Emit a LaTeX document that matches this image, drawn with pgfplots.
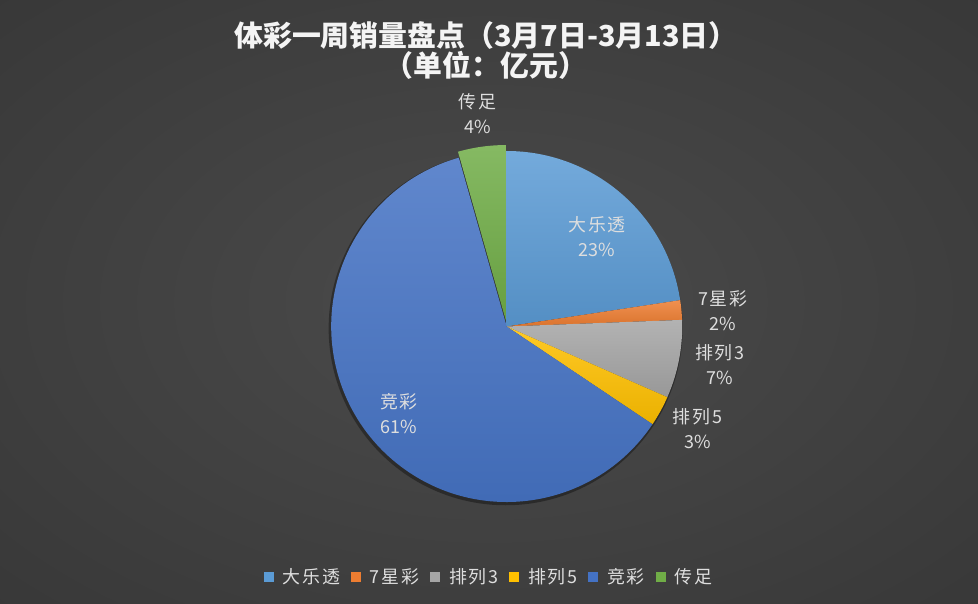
\documentclass[border=0pt]{standalone}
\usepackage{fontspec}
\setmainfont{Noto Sans CJK SC}
\usepackage{pgfplots}
\usepackage{pgfplotstable}
\pgfplotsset{compat=1.18}

\definecolor{cA}{HTML}{5B9BD5}
\definecolor{cB}{HTML}{ED7D31}
\definecolor{cC}{HTML}{A5A5A5}
\definecolor{cD}{HTML}{FFC000}
\definecolor{cE}{HTML}{4472C4}
\definecolor{cF}{HTML}{70AD47}
\definecolor{bgin}{HTML}{4B4B4B}
\definecolor{bgout}{HTML}{252525}
\definecolor{lblc}{HTML}{DEDEDE}
\definecolor{ttlc}{HTML}{F4F4F4}

\pgfdeclareradialshading{bgglow}{\pgfpointorigin}{color(0bp)=(bgin); color(72bp)=(bgout)}

\newcommand\lblfont{\fontsize{18}{25}\selectfont\addfontfeatures{LetterSpace=9}}
\newcommand\pctfont{\addfontfeatures{LetterSpace=0}}

% share of each game (percent), label spot in axis units, explode (bp)
\pgfplotstableread{
name   value col lx     ly     ex
大乐透 22.6  cA   0.515  0.510  0
7星彩  1.8   cB   1.230  0.090  0
排列3  7.2   cC   1.215  -0.218 0
排列5  2.8   cD   1.087  -0.584 0
竞彩   61.2  cE   -0.614 -0.496 0
传足   4.4   cF   -0.166 1.213  6
}\piedata

\begin{document}
\begin{tikzpicture}
\shade[shading=bgglow] (0,0) rectangle (978bp,604bp);

% start/end angles of the slices, clockwise from the top
\pgfplotstablegetrowsof{\piedata}%
\pgfmathtruncatemacro\lastrow{\pgfplotsretval-1}%
\xdef\runang{90}%
\foreach \i in {0,...,\lastrow}{%
  \pgfplotstablegetelem{\i}{value}\of\piedata\let\val\pgfplotsretval
  \pgfplotstablegetelem{\i}{col}\of\piedata\let\colname\pgfplotsretval
  \pgfplotstablegetelem{\i}{ex}\of\piedata\let\exv\pgfplotsretval
  \pgfplotstablegetelem{\i}{name}\of\piedata\let\nm\pgfplotsretval
  \pgfmathsetmacro\aend{\runang-3.6*\val}%
  \pgfmathsetmacro\amid{(\runang+\aend)/2}%
  \expandafter\xdef\csname pieS\i\endcsname{\runang}%
  \expandafter\xdef\csname pieE\i\endcsname{\aend}%
  \expandafter\xdef\csname pieM\i\endcsname{\amid}%
  \expandafter\xdef\csname pieC\i\endcsname{\colname}%
  \expandafter\xdef\csname pieX\i\endcsname{\exv}%
  \expandafter\xdef\csname pieN\i\endcsname{\nm}%
  \xdef\runang{\aend}%
}

\begin{axis}[
  at={(506.7bp,277.5bp)}, anchor=center,
  scale only axis, width=351bp, height=351bp,
  xmin=-1, xmax=1, ymin=-1, ymax=1, enlargelimits=false,
  hide axis, clip=false,
  title={体彩一周销量盘点（3月7日-3月13日）\\（单位：亿元）},
  title style={at={(0.441,1.268)}, anchor=center, align=center,
    text=ttlc, font=\fontsize{29}{30}\selectfont\bfseries},
  legend columns=-1,
  legend image code/.code={\fill[#1] (0bp,-5bp) rectangle (10bp,5bp);},
  legend style={at={(0.4496,-0.2123)}, anchor=center, draw=none, fill=none,
    text=lblc, font=\lblfont,
    /tikz/every odd column/.append style={column sep=7bp},
    /tikz/every even column/.append style={column sep=9bp}},
]

\fill[black, opacity=0.35] (axis cs:-0.006,-0.010) circle[radius=177bp];

\pgfplotsinvokeforeach{0,...,5}{
  \shade[top color=\csname pieC#1\endcsname!85!white,
         bottom color=\csname pieC#1\endcsname!92!black,
         shift={(\csname pieM#1\endcsname:\csname pieX#1\endcsname bp)}]
    (axis cs:0,0) -- ++(\csname pieS#1\endcsname:175.5bp)
    arc[start angle=\csname pieS#1\endcsname,
        end angle=\csname pieE#1\endcsname, radius=175.5bp] -- cycle;
}

\addplot[draw=none, mark=none, forget plot,
  point meta=explicit symbolic,
  visualization depends on={\thisrow{value} \as \lval},
  nodes near coords={\pgfplotspointmeta\\{\pctfont\pgfmathprintnumber[fixed,precision=0,assume math mode=true]{\lval}\%}},
  every node near coord/.append style={anchor=center, align=center,
    font=\lblfont, text=lblc}]
  table[x=lx, y=ly, meta=name] {\piedata};

\pgfplotsinvokeforeach{0,...,5}{
  \addlegendimage{fill=\csname pieC#1\endcsname, draw=none}
  \addlegendentry{\csname pieN#1\endcsname}
}
\end{axis}
\pgfresetboundingbox
\useasboundingbox (0,0) rectangle (978bp,604bp);
\end{tikzpicture}
\end{document}
